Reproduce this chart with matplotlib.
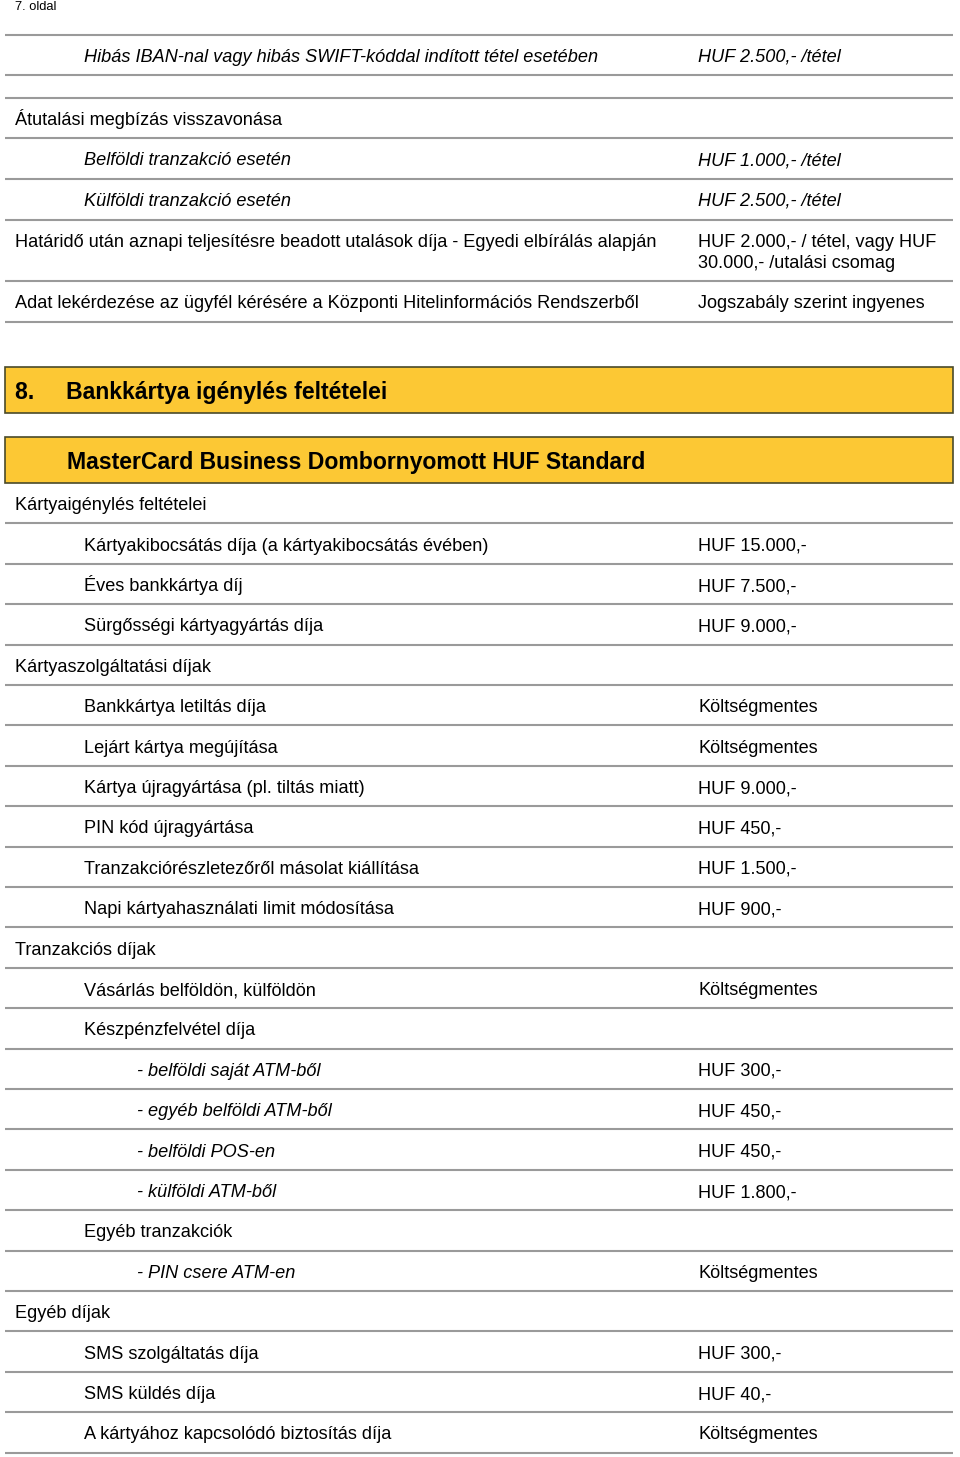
import matplotlib.pyplot as plt
from matplotlib.patches import Rectangle

plt.rcParams['font.family'] = ['Liberation Sans', 'DejaVu Sans']

page_label = "7. oldal"

# upper table: (level, label, value, italic)
top_levels = [1, None, 0, 1, 1, 0, 0]
top_labels = [
    "Hibás IBAN-nal vagy hibás SWIFT-kóddal indított tétel esetében",
    "",
    "Átutalási megbízás visszavonása",
    "Belföldi tranzakció esetén",
    "Külföldi tranzakció esetén",
    "Határidő után aznapi teljesítésre beadott utalások díja - Egyedi elbírálás alapján",
    "Adat lekérdezése az ügyfél kérésére a Központi Hitelinformációs Rendszerből",
]
top_values = [
    "HUF 2.500,- /tétel",
    "",
    "",
    "HUF 1.000,- /tétel",
    "HUF 2.500,- /tétel",
    "HUF 2.000,- / tétel, vagy HUF\n30.000,- /utalási csomag",
    "Jogszabály szerint ingyenes",
]
top_italic = [True, False, False, True, True, False, False]

section_title = "8.     Bankkártya igénylés feltételei"
card_title = "MasterCard Business Dombornyomott HUF Standard"

card_levels = [0, 1, 1, 1, 0, 1, 1, 1, 1, 1, 1, 0, 1, 1, 2, 2, 2, 2, 1, 2, 0, 1, 1, 1]
card_labels = [
    "Kártyaigénylés feltételei",
    "Kártyakibocsátás díja (a kártyakibocsátás évében)",
    "Éves bankkártya díj",
    "Sürgősségi kártyagyártás díja",
    "Kártyaszolgáltatási díjak",
    "Bankkártya letiltás díja",
    "Lejárt kártya megújítása",
    "Kártya újragyártása (pl. tiltás miatt)",
    "PIN kód újragyártása",
    "Tranzakciórészletezőről másolat kiállítása",
    "Napi kártyahasználati limit módosítása",
    "Tranzakciós díjak",
    "Vásárlás belföldön, külföldön",
    "Készpénzfelvétel díja",
    "- belföldi saját ATM-ből",
    "- egyéb belföldi ATM-ből",
    "- belföldi POS-en",
    "- külföldi ATM-ből",
    "Egyéb tranzakciók",
    "- PIN csere ATM-en",
    "Egyéb díjak",
    "SMS szolgáltatás díja",
    "SMS küldés díja",
    "A kártyához kapcsolódó biztosítás díja",
]
card_values = [
    "", "HUF 15.000,-", "HUF 7.500,-", "HUF 9.000,-",
    "", "Költségmentes", "Költségmentes", "HUF 9.000,-", "HUF 450,-",
    "HUF 1.500,-", "HUF 900,-",
    "", "Költségmentes", "", "HUF 300,-", "HUF 450,-", "HUF 450,-",
    "HUF 1.800,-", "", "Költségmentes",
    "", "HUF 300,-", "HUF 40,-", "Költségmentes",
]

# layout (pixel coordinates)
W, H = 960, 1457
indent = {0: 15, 1: 84, 2: 137}
value_x = 698
left, right = 5, 953
line_color = "#9a9a9a"
yellow = "#fcc834"
fs = 13.1
base_off = 7  # baseline below row centre

fig = plt.figure(figsize=(W / 100, H / 100), dpi=100)
ax = fig.add_axes([0, 0, 1, 1])
ax.set_xlim(0, W)
ax.set_ylim(H, 0)
ax.axis("off")


def hline(y):
    ax.plot([left, right], [y, y], color=line_color, lw=1.5, solid_capstyle="butt")


ax.text(15, 10, page_label, fontsize=9.3, va="baseline", ha="left")

# upper table
top_heights = [40, 23, 40, 41, 41, 61, 41]
y = 35
hline(y)
for lvl, lab, val, it, h in zip(top_levels, top_labels, top_values, top_italic, top_heights):
    style = "italic" if it else "normal"
    yb = y + 20 + base_off
    if lab:
        ax.text(indent[lvl], yb, lab, fontsize=fs, style=style, va="baseline", ha="left")
    for k, part in enumerate(val.split("\n") if val else []):
        ax.text(value_x, yb + 21 * k, part, fontsize=fs, style=style,
                va="baseline", ha="left")
    y += h
    hline(y)

# yellow headers
for top, title in [(367, section_title), (437, card_title)]:
    ax.add_patch(Rectangle((left, top), right - left, 46, facecolor=yellow,
                           edgecolor="#4a4a2a", lw=1.2))
    tx = 15 if title.startswith("8.") else 67
    ax.text(tx, top + 31.5, title, fontsize=16.6, fontweight="bold", va="baseline", ha="left")

# card table
row_h = 40.4
y0 = 483
for i, (lvl, lab, val) in enumerate(zip(card_levels, card_labels, card_values)):
    yb = y0 + row_h * (i + 0.5) + base_off
    style = "italic" if lvl == 2 else "normal"
    ax.text(indent[lvl], yb, lab, fontsize=fs, style=style, va="baseline", ha="left")
    if val:
        ax.text(value_x, yb, val, fontsize=fs, va="baseline", ha="left")
    hline(y0 + row_h * (i + 1))

fig.savefig("out.png", dpi=100, facecolor="white")
